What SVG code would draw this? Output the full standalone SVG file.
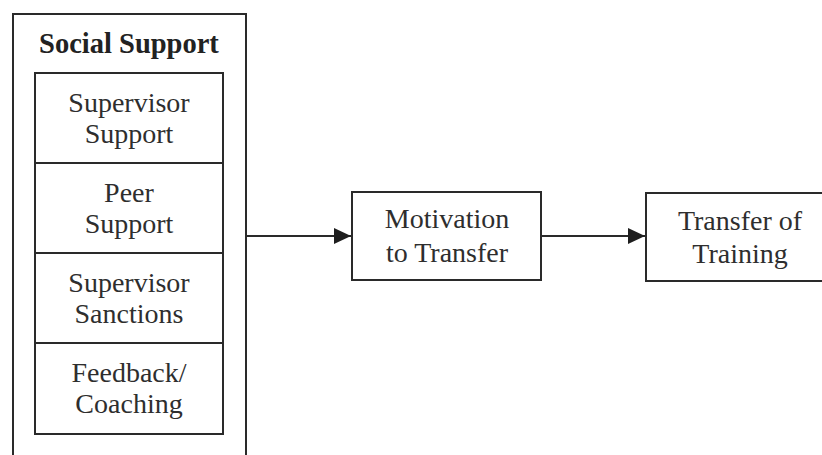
<svg xmlns="http://www.w3.org/2000/svg" width="822" height="455" viewBox="0 0 822 455">
<defs>
<style>
.box{fill:#fff;stroke:#2a2a2a;stroke-width:2}
.ln{stroke:#2a2a2a;stroke-width:2;fill:none}
.t{font-family:'Liberation Serif','Times New Roman',serif;font-size:28px;fill:#2e2e2e;text-anchor:middle}
.b{font-weight:bold;font-size:28.5px;fill:#222}
</style>
<marker id="ah" viewBox="0 0 17 16" refX="17" refY="8" markerWidth="17" markerHeight="16" markerUnits="userSpaceOnUse" orient="auto"><path d="M0,0 L17,8 L0,16 z" fill="#1e1e1e"/></marker>
</defs>
<rect width="822" height="455" fill="#fff"/>
<g id="social-support">
<rect class="box" x="13" y="14" width="233" height="446"/>
<text class="t b" x="129" y="53">Social Support</text>
</g>
<g id="supervisor-support">
<rect class="box" x="35" y="73" width="188" height="90"/>
<text class="t" x="129" y="112">Supervisor</text>
<text class="t" x="129" y="143">Support</text>
</g>
<g id="peer-support">
<rect class="box" x="35" y="163" width="188" height="90"/>
<text class="t" x="129" y="202">Peer</text>
<text class="t" x="129" y="233">Support</text>
</g>
<g id="supervisor-sanctions">
<rect class="box" x="35" y="253" width="188" height="90"/>
<text class="t" x="129" y="292">Supervisor</text>
<text class="t" x="129" y="323">Sanctions</text>
</g>
<g id="feedback-coaching">
<rect class="box" x="35" y="343" width="188" height="91"/>
<text class="t" x="129" y="382">Feedback/</text>
<text class="t" x="129" y="413">Coaching</text>
</g>
<g id="motivation">
<rect class="box" x="352" y="192" width="189" height="88"/>
<text class="t" x="447" y="228">Motivation</text>
<text class="t" x="447" y="262">to Transfer</text>
</g>
<g id="transfer">
<rect class="box" x="646" y="193" width="182" height="88"/>
<text class="t" x="740" y="230">Transfer of</text>
<text class="t" x="740" y="263">Training</text>
</g>
<g id="connectors">
<line class="ln" x1="246" y1="236" x2="351" y2="236" marker-end="url(#ah)"/>
<line class="ln" x1="541" y1="236" x2="645" y2="236" marker-end="url(#ah)"/>
</g>
</svg>
